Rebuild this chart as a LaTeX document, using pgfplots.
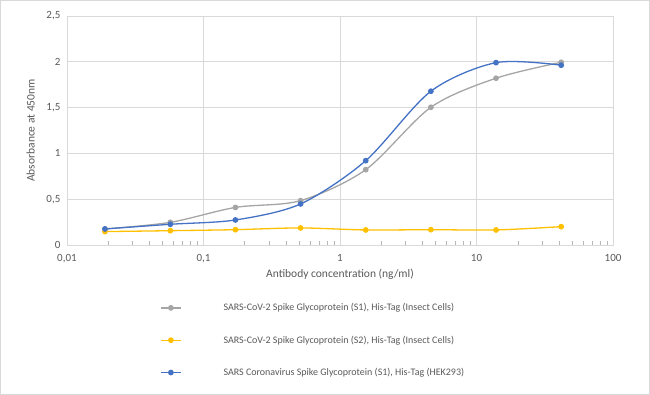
\documentclass[border=0pt]{standalone}
\usepackage{pgfplots}
\pgfplotsset{compat=1.18}
\usepackage{fontspec}
\setmainfont{Carlito}
\definecolor{cgray}{HTML}{A5A5A5}
\definecolor{cyellow}{HTML}{FFC000}
\definecolor{cblue}{HTML}{4472C4}
\definecolor{cgrid}{HTML}{D9D9D9}
\definecolor{ctext}{HTML}{595959}
\begin{document}
\begin{tikzpicture}[x=1pt,y=1pt]
\draw[cgrid, line width=0.8pt] (0.5,0.5) rectangle (649.5,394.5);
\begin{axis}[
  at={(67pt,150pt)}, anchor=south west,
  scale only axis, width=546pt, height=229pt,
  xmode=log, xmin=0.01, xmax=100, ymin=0, ymax=2.5,
  xtick={0.01,0.1,1,10,100},
  xticklabels={{0,01},{0,1},1,10,100},
  ytick={0,0.5,1,1.5,2,2.5},
  yticklabels={0,{0,5},1,{1,5},2,{2,5}},
  minor xtick={0.02,0.03,0.04,0.05,0.06,0.07,0.08,0.09,0.2,0.3,0.4,0.5,0.6,0.7,0.8,0.9,2,3,4,5,6,7,8,9,20,30,40,50,60,70,80,90},
  xmajorgrids, ymajorgrids,
  grid style={cgrid, line width=0.6pt},
  axis line style={cgrid, line width=0.8pt},
  major tick length=0pt,
  minor tick length=4pt,
  tick style={draw=cgray!80},
  ytick style={draw=none},
  xtick pos=bottom, tick align=inside,
  ticklabel style={font=\fontsize{11}{13}\selectfont, text=ctext},
  yticklabel style={xshift=-3pt},
  xticklabel style={yshift=-6pt},
  xlabel={Antibody concentration (ng/ml)},
  ylabel={Absorbance at 450nm},
  label style={font=\fontsize{11.5}{13}\selectfont, text=ctext},
  xlabel style={yshift=1pt},
  ylabel style={yshift=5pt},
  legend cell align=left,
  legend style={draw=none, fill=none, at={(0.165,-0.237)}, anchor=north west,
    font=\fontsize{10}{12}\selectfont, text=ctext, row sep=19.5pt,
    /tikz/every odd column/.append style={column sep=40pt}},
  legend image code/.code={\draw[mark repeat=2,mark phase=2,#1] plot coordinates {(0pt,0pt) (10pt,0pt) (20pt,0pt)};},
  every axis plot/.append style={line width=1.3pt, smooth, mark=*, mark size=2.2pt},
]
\addplot[color=cgray, mark options={fill=cgray}] coordinates {
(0.0190,0.175) (0.0572,0.247) (0.1715,0.410) (0.5144,0.484) (1.5432,0.822) (4.6296,1.503) (13.889,1.820) (41.667,1.994)};
\addlegendentry{SARS-CoV-2 Spike Glycoprotein (S1), His-Tag (Insect Cells)}
\addplot[color=cyellow, mark options={fill=cyellow}] coordinates {
(0.0190,0.146) (0.0572,0.156) (0.1715,0.167) (0.5144,0.186) (1.5432,0.164) (4.6296,0.167) (13.889,0.164) (41.667,0.200)};
\addlegendentry{SARS-CoV-2 Spike Glycoprotein (S2), His-Tag (Insect Cells)}
\addplot[color=cblue, mark options={fill=cblue}] coordinates {
(0.0190,0.175) (0.0572,0.226) (0.1715,0.273) (0.5144,0.448) (1.5432,0.920) (4.6296,1.678) (13.889,1.990) (41.667,1.962)};
\addlegendentry{SARS Coronavirus Spike Glycoprotein (S1), His-Tag (HEK293)}
\end{axis}
\end{tikzpicture}
\end{document}
